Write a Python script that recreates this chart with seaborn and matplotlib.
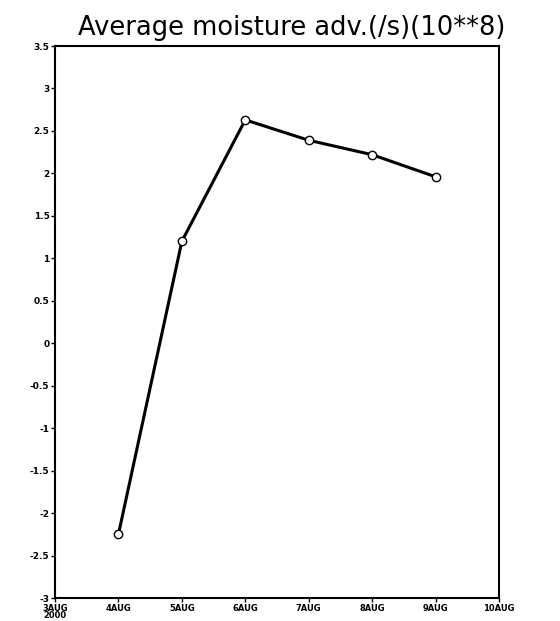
import matplotlib
matplotlib.use("Agg")
import matplotlib.pyplot as plt
import pandas as pd
import seaborn as sns

# data
days = [4, 5, 6, 7, 8, 9]
moisture_adv = [-2.25, 1.2, 2.63, 2.39, 2.22, 1.96]
xtick_pos = [3, 4, 5, 6, 7, 8, 9, 10]
xtick_labels = ["3AUG\n2000", "4AUG", "5AUG", "6AUG", "7AUG", "8AUG", "9AUG", "10AUG"]
ytick_pos = [-3, -2.5, -2, -1.5, -1, -0.5, 0, 0.5, 1, 1.5, 2, 2.5, 3, 3.5]
ytick_labels = ["-3", "-2.5", "-2", "-1.5", "-1", "-0.5", "0", "0.5", "1", "1.5", "2", "2.5", "3", "3.5"]

df = pd.DataFrame({"day": days, "adv": moisture_adv})

sns.set_style("ticks")
plt.rcParams["font.family"] = ["DejaVu Sans"]
plt.rcParams["text.color"] = "black"
plt.rcParams["xtick.color"] = "black"
plt.rcParams["ytick.color"] = "black"

fig = plt.figure(figsize=(5.6, 6.21), dpi=100)
ax = fig.add_axes([55 / 560, 23 / 621, 444 / 560, 552 / 621])

sns.lineplot(data=df, x="day", y="adv", ax=ax, color="black", linewidth=2.2,
             marker="o", markersize=6, markerfacecolor="white",
             markeredgecolor="black", markeredgewidth=1.0)

ax.set_xlim(3, 10)
ax.set_ylim(-3, 3.5)
ax.set_xticks(xtick_pos)
ax.set_xticklabels(xtick_labels, fontsize=6, fontweight="bold", linespacing=0.8)
ax.set_yticks(ytick_pos)
ax.set_yticklabels(ytick_labels, fontsize=6.5, fontweight="bold")
ax.tick_params(axis="both", length=3, width=1, pad=1)
ax.set_xlabel("")
ax.set_ylabel("")
for s in ax.spines.values():
    s.set_linewidth(1.5)
    s.set_edgecolor("black")
    s.set_visible(True)

fig.text(0.52, 1 - 28 / 621, "Average moisture adv.(/s)(10**8)",
         ha="center", va="center", fontsize=18.5, color="black")

fig.savefig("out.png", dpi=100)
